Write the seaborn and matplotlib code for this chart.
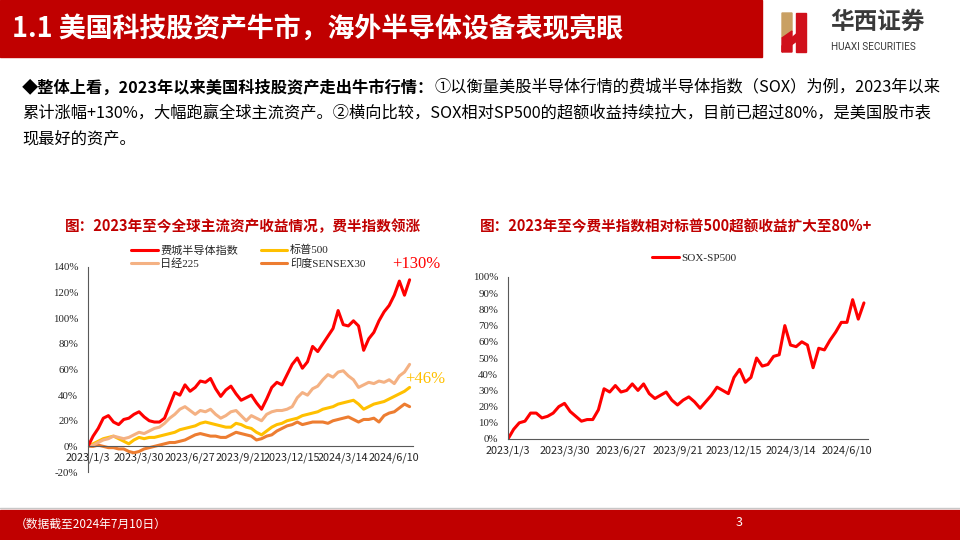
import numpy as np
import pandas as pd
import seaborn as sns
import matplotlib.pyplot as plt
from matplotlib.patches import Rectangle, Polygon

W, H = 960, 540

# trading-day index since 2023/1/3, one reading every 6 sessions
days = list(range(0, 379, 6))
tick_days = [0, 60, 120, 180, 240, 300, 360]
tick_labels = ["2023/1/3", "2023/3/30", "2023/6/27", "2023/9/21",
               "2023/12/15", "2024/3/14", "2024/6/10"]

# cumulative return since 2023/1/3 (%)
sox = [0, 8, 14, 22, 24, 19, 17, 21, 22, 25,
       27, 23, 20, 19, 19, 22, 32, 42, 40, 48,
       43, 46, 51, 50, 53, 45, 39, 44, 47, 41,
       36, 38, 40, 34, 29, 37, 46, 50, 48, 56,
       64, 69, 61, 66, 78, 74, 80, 86, 92, 106,
       95, 94, 98, 94, 75, 84, 89, 98, 105, 110,
       118, 129, 118, 130]
spx = [0, 2, 4, 6, 7, 8, 6, 4, 2, 5,
       7, 6, 7, 7, 8, 9, 10, 11, 13, 14,
       15, 16, 18, 19, 18, 17, 16, 15, 15, 18,
       17, 15, 14, 11, 9, 12, 15, 17, 18, 20,
       21, 22, 24, 25, 26, 27, 29, 30, 31, 33,
       34, 35, 36, 33, 29, 31, 33, 34, 35, 37,
       39, 41, 43, 46]
nikkei = [0, 1, 3, 5, 6, 8, 7, 6, 7, 9,
          11, 10, 12, 14, 15, 18, 22, 25, 29, 31,
          28, 25, 28, 27, 29, 25, 22, 24, 27, 28,
          24, 20, 24, 22, 20, 25, 27, 28, 28, 29,
          31, 38, 42, 40, 45, 47, 52, 56, 54, 58,
          59, 55, 52, 46, 48, 50, 49, 51, 50, 52,
          49, 55, 58, 64]
sensex = [0, 0, 1, 0, -1, -1, -2, -2, -4, -5,
          -4, -2, -1, 0, 1, 2, 3, 3, 4, 5,
          7, 9, 10, 9, 8, 8, 7, 7, 9, 11,
          10, 9, 8, 5, 6, 8, 9, 12, 14, 16,
          17, 19, 17, 18, 19, 19, 19, 18, 20, 21,
          22, 23, 21, 19, 21, 21, 22, 19, 24, 26,
          27, 30, 33, 31]
# SOX excess return over SP500 (%)
sox_spx = [0, 6, 10, 11, 16, 16, 13, 14, 16, 20,
           22, 17, 14, 11, 12, 12, 18, 31, 29, 33,
           29, 30, 34, 30, 34, 28, 25, 27, 29, 24,
           21, 24, 26, 23, 19, 23, 27, 32, 30, 28,
           38, 43, 35, 38, 50, 45, 46, 51, 52, 70,
           58, 57, 60, 58, 44, 56, 55, 61, 66, 72,
           72, 86, 74, 84]

names = ["印度SENSEX30", "标普500", "日经225", "费城半导体指数"]
colors = ["#ED7D31", "#FFC000", "#F4B183", "#FF0000"]
left_df = pd.DataFrame({"day": days * 4,
                        "ret": sensex + spx + nikkei + sox,
                        "name": np.repeat(names, len(days))})

sns.set_theme(style="white")
plt.rcParams["font.family"] = ["Noto Sans CJK SC", "DejaVu Sans"]
serif = ["Liberation Serif", "Noto Sans CJK SC"]
RED = "#C00000"


def fx(x):
    return x / W


def fy(y):
    return 1 - y / H


fig = plt.figure(figsize=(9.6, 5.4), dpi=100)

# slide background: header, footer, text
bg = fig.add_axes([0, 0, 1, 1])
bg.set_xlim(0, W)
bg.set_ylim(H, 0)
bg.axis("off")
bg.add_patch(Rectangle((0, 0), 762, 57, color=RED))
bg.text(12, 29, "1.1 美国科技股资产牛市，海外半导体设备表现亮眼", color="white",
        fontsize=19.4, fontweight="bold", va="center")

# logo
bg.add_patch(Polygon([(782, 13), (792, 13), (792, 31), (782, 38)], color="#C9A063"))
bg.add_patch(Polygon([(782, 38), (792, 31), (792, 52), (782, 52)], color="#D0101B"))
bg.add_patch(Polygon([(782, 46), (806, 26), (806, 34), (782, 52)], color="#D0101B"))
bg.add_patch(Polygon([(796, 13), (806, 13), (806, 52), (796, 52)], color="#D0101B"))
bg.text(830, 22, "华西证券", fontsize=17, fontweight="bold", color="#3a3a3a", va="center")
bg.text(831, 47, "HUAXI SECURITIES", fontsize=7.2, color="#3a3a3a", va="center",
        family=["Roboto", "DejaVu Sans"])

t1 = bg.text(22, 87, "◆整体上看，2023年以来美国科技股资产走出牛市行情：",
             fontsize=11.7, fontweight="bold", va="center", color="black")
bg.annotate("①以衡量美股半导体行情的费城半导体指数（SOX）为例，2023年以来",
            xy=(1, 0.5), xycoords=t1, va="center", ha="left", fontsize=11.7, color="black")
bg.text(22, 113, "累计涨幅+130%，大幅跑赢全球主流资产。②横向比较，SOX相对SP500的超额收益持续拉大，目前已超过80%，是美国股市表",
        fontsize=11.7, va="center", color="black")
bg.text(22, 139, "现最好的资产。", fontsize=11.7, va="center", color="black")

bg.text(243, 226, "图：2023年至今全球主流资产收益情况，费半指数领涨", color=RED,
        fontsize=10.5, fontweight="bold", ha="center", va="center")
bg.text(676, 226, "图：2023年至今费半指数相对标普500超额收益扩大至80%+", color=RED,
        fontsize=10.5, fontweight="bold", ha="center", va="center")

bg.plot([0, W], [508, 508], color="#C8C8C8", lw=1)
bg.add_patch(Rectangle((0, 510), W, 30, color=RED))
bg.text(15, 524, "（数据截至2024年7月10日）", color="white", fontsize=8.5, va="center")
bg.text(739, 523, "3", color="white", fontsize=9, ha="center", va="center")


def style_axis(ax, ylo, yhi, ystep):
    ax.set_facecolor("none")
    ax.set_xlim(0, 382)
    ax.set_ylim(ylo, yhi)
    ax.set_yticks(range(ylo, yhi + 1, ystep))
    ax.yaxis.set_major_formatter(lambda v, p: f"{v:.0f}%")
    ax.set_xticks(tick_days[::2], labels=tick_labels[::2])
    ax.set_xticks(tick_days[1::2], labels=tick_labels[1::2], minor=True)
    ax.tick_params(which="major", direction="in", length=4, width=0.8,
                   color="#595959", labelcolor="#262626", labelsize=7.8)
    ax.tick_params(axis="x", which="minor", length=0, labelcolor="#262626", labelsize=7.8)
    ax.tick_params(axis="x", which="both", pad=4.5)
    ax.tick_params(axis="y", pad=7)
    for lab in ax.get_xticklabels(which="both") + ax.get_yticklabels():
        lab.set_fontfamily(serif)
    for s in ["top", "right"]:
        ax.spines[s].set_visible(False)
    ax.spines["bottom"].set_position(("data", 0))
    for s in ["left", "bottom"]:
        ax.spines[s].set_color("#595959")
        ax.spines[s].set_linewidth(0.8)
    ax.set_xlabel("")
    ax.set_ylabel("")
    ax.grid(False)


# left chart: cumulative returns
ax1 = fig.add_axes([fx(88), fy(472), 325 / W, 205 / H])
sns.lineplot(data=left_df, x="day", y="ret", hue="name", hue_order=names,
             palette=colors, linewidth=2.2, ax=ax1)
style_axis(ax1, -20, 140, 20)
handles, labels = ax1.get_legend_handles_labels()
lookup = dict(zip(labels, handles))
order = ["费城半导体指数", "日经225", "标普500", "印度SENSEX30"]
ax1.legend([lookup[k] for k in order], order, ncol=2, loc="upper left",
           bbox_to_anchor=(fx(131), fy(245)), bbox_transform=fig.transFigure,
           frameon=False, prop={"family": serif, "size": 8}, handlelength=2.4,
           handletextpad=0.25, columnspacing=2.0, labelspacing=0.3,
           borderpad=0, borderaxespad=0)
ax1.text(357, 142, "+130%", color="#FF0000", fontsize=12, family=serif,
         ha="left", va="center")
ax1.text(373, 52.5, "+46%", color="#FFC000", fontsize=12, family=serif,
         ha="left", va="center")

# right chart: SOX minus SP500
ax2 = fig.add_axes([fx(508), fy(439), 359.7 / W, 162 / H])
sns.lineplot(x=days, y=sox_spx, color="#FF0000", linewidth=2.2, label="SOX-SP500", ax=ax2)
style_axis(ax2, 0, 100, 10)
ax2.legend(loc="upper left", bbox_to_anchor=(fx(652), fy(253)),
           bbox_transform=fig.transFigure, frameon=False,
           prop={"family": serif, "size": 8}, handlelength=2.4,
           handletextpad=0.25, borderpad=0, borderaxespad=0)

fig.savefig("out.png", dpi=100)
